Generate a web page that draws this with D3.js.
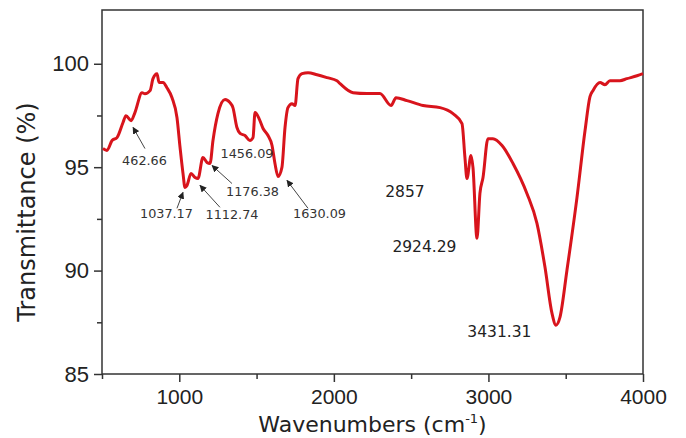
<!DOCTYPE html>
<html>
<head>
<meta charset="utf-8">
<script src="https://cdn.jsdelivr.net/npm/d3@7"></script>
<style>
  body { margin: 0; background: #fff; }
  svg { display: block; font-family: "DejaVu Sans", sans-serif; }
</style>
</head>
<body>
<svg id="chart"></svg>
<script>
// FTIR spectrum, values
const wavenumbers = [
  506, 532, 565, 597, 636, 655, 688, 713, 759, 778, 811, 830, 856, 869, 895,
  920, 953, 985, 1005, 1024, 1037, 1050, 1076, 1102, 1121, 1153, 1179, 1199,
  1218, 1250, 1296, 1328, 1347, 1373, 1393, 1425, 1457, 1477, 1490, 1516,
  1542, 1574, 1600, 1619, 1639, 1664, 1684, 1703, 1729, 1749, 1768, 1794,
  1833, 1891, 1956, 2020, 2040, 2124, 2214, 2298, 2370, 2402, 2473, 2577,
  2687, 2771, 2829, 2848, 2861, 2887, 2900, 2926, 2945, 2965, 2997, 3029,
  3088, 3159, 3249, 3314, 3366, 3411, 3437, 3463, 3508, 3573, 3625, 3657,
  3676, 3722, 3754, 3786, 3851, 3896, 3961, 4000,
];
const transmittance = [
  95.9, 95.81, 96.29, 96.43, 97.16, 97.49, 97.25, 97.64, 98.6, 98.55, 98.7,
  99.28, 99.52, 99.09, 99.09, 98.84, 98.36, 97.4, 95.95, 94.7, 94.02, 94.12,
  94.7, 94.5, 94.45, 95.47, 95.23, 95.18, 96.29, 97.59, 98.27, 98.12, 97.88,
  96.92, 96.63, 96.53, 96.29, 96.43, 97.64, 97.35, 96.87, 96.53, 96.05,
  95.18, 94.55, 94.99, 96.92, 97.88, 98.07, 97.98, 99.28, 99.52, 99.57,
  99.47, 99.33, 99.18, 99.04, 98.6, 98.56, 98.56, 97.98, 98.36, 98.22,
  97.98, 97.88, 97.59, 97.11, 95.47, 94.45, 95.56, 94.99, 91.56, 93.73,
  94.5, 96.38, 96.38, 96.05, 95.18, 93.73, 92.28, 90.16, 87.94, 87.36,
  87.75, 90.02, 93.54, 96.77, 98.41, 98.7, 99.09, 98.99, 99.18, 99.18,
  99.28, 99.42, 99.52,
];

const xTicks = [1000, 2000, 3000, 4000];
const xMinorTicks = [500, 1500, 2500, 3500];
const yTicks = [85, 90, 95, 100];
const yMinorTicks = [87.5, 92.5, 97.5];

// peak labels: text, wavenumber, transmittance of the label centre
const smallLabels = [
  ["462.66", 775, 95.35],
  ["1037.17", 917, 92.77],
  ["1112.74", 1341, 92.72],
  ["1176.38", 1474, 93.83],
  ["1456.09", 1438, 95.66],
  ["1630.09", 1907, 92.77],
];
const largeLabels = [
  ["2857", 2460, 93.84],
  ["2924.29", 2586, 91.17],
  ["3431.31", 3071, 87.04],
];
// arrows: tail wavenumber, tail T, tip wavenumber, tip T
const arrows = [
  [778, 95.9, 701, 96.92],
  [985, 93.01, 1024, 93.78],
  [1263, 93.06, 1134, 94.12],
  [1341, 94.21, 1212, 95.08],
  [1833, 93.01, 1697, 94.36],
];

const width = 686;
const height = 438;
const margin = { top: 10, right: 43, bottom: 64, left: 102 };

const svg = d3
  .select("#chart")
  .attr("width", width)
  .attr("height", height);

const x = d3
  .scaleLinear()
  .domain([500, 4000])
  .range([margin.left, width - margin.right]);

const y = d3
  .scaleLinear()
  .domain([85, 102.6])
  .range([height - margin.bottom, margin.top]);

const axisColor = "#333";

// x axis with minor ticks
svg
  .append("g")
  .attr("transform", `translate(0,${height - margin.bottom})`)
  .call(d3.axisBottom(x).tickValues(xMinorTicks).tickSize(5).tickFormat(() => ""))
  .call((g) => g.select(".domain").remove());

svg
  .append("g")
  .attr("transform", `translate(0,${height - margin.bottom})`)
  .call(
    d3.axisBottom(x).tickValues(xTicks).tickSize(8).tickPadding(7).tickFormat(d3.format("d")),
  )
  .call((g) => g.select(".domain").remove())
  .call((g) =>
    g.selectAll("text").attr("font-size", 21).attr("fill", "#222"),
  );

// y axis with minor ticks
svg
  .append("g")
  .attr("transform", `translate(${margin.left},0)`)
  .call(d3.axisLeft(y).tickValues(yMinorTicks).tickSize(5).tickFormat(() => ""))
  .call((g) => g.select(".domain").remove());

svg
  .append("g")
  .attr("transform", `translate(${margin.left},0)`)
  .call(d3.axisLeft(y).tickValues(yTicks).tickSize(8).tickPadding(5))
  .call((g) => g.select(".domain").remove())
  .call((g) =>
    g.selectAll("text").attr("font-size", 22).attr("fill", "#222"),
  );

svg.selectAll(".tick line").attr("stroke", axisColor).attr("stroke-width", 1.5);

// frame
svg
  .append("rect")
  .attr("x", margin.left)
  .attr("y", margin.top)
  .attr("width", width - margin.left - margin.right)
  .attr("height", height - margin.top - margin.bottom)
  .attr("fill", "none")
  .attr("stroke", axisColor)
  .attr("stroke-width", 1.5);

// spectrum
const spectrum = wavenumbers.map((w, i) => [w, transmittance[i]]);

const line = d3
  .line()
  .x((d) => x(d[0]))
  .y((d) => y(d[1]))
  .curve(d3.curveMonotoneX);

svg
  .append("path")
  .datum(spectrum)
  .attr("fill", "none")
  .attr("stroke", "#d8141c")
  .attr("stroke-width", 3)
  .attr("stroke-linejoin", "round")
  .attr("d", line);

// arrows
svg
  .append("defs")
  .append("marker")
  .attr("id", "head")
  .attr("viewBox", "0 0 10 10")
  .attr("refX", 9)
  .attr("refY", 5)
  .attr("markerWidth", 7)
  .attr("markerHeight", 7)
  .attr("markerUnits", "userSpaceOnUse")
  .attr("orient", "auto")
  .append("path")
  .attr("d", "M0,0L10,5L0,10Z")
  .attr("fill", "#222");

svg
  .append("g")
  .selectAll("line")
  .data(arrows)
  .join("line")
  .attr("x1", (d) => x(d[0]))
  .attr("y1", (d) => y(d[1]))
  .attr("x2", (d) => x(d[2]))
  .attr("y2", (d) => y(d[3]))
  .attr("stroke", "#444")
  .attr("stroke-width", 1)
  .attr("marker-end", "url(#head)");

// peak labels
svg
  .append("g")
  .selectAll("text")
  .data(smallLabels)
  .join("text")
  .attr("x", (d) => x(d[1]))
  .attr("y", (d) => y(d[2]))
  .attr("dy", "0.36em")
  .attr("text-anchor", "middle")
  .attr("font-size", 12.8)
  .attr("fill", "#333")
  .text((d) => d[0]);

svg
  .append("g")
  .selectAll("text")
  .data(largeLabels)
  .join("text")
  .attr("x", (d) => x(d[1]))
  .attr("y", (d) => y(d[2]))
  .attr("dy", "0.36em")
  .attr("text-anchor", "middle")
  .attr("font-size", 15.5)
  .attr("fill", "#222")
  .text((d) => d[0]);

// axis titles
const xTitle = svg
  .append("text")
  .attr("x", (margin.left + width - margin.right) / 2)
  .attr("y", 432)
  .attr("text-anchor", "middle")
  .attr("font-size", 22)
  .attr("fill", "#222");

xTitle.append("tspan").text("Wavenumbers (cm");
xTitle.append("tspan").attr("dy", -9).attr("font-size", 13).text("-1");
xTitle.append("tspan").attr("dy", 9).text(")");

svg
  .append("text")
  .attr("transform", `translate(35,${(margin.top + height - margin.bottom) / 2 + 20}) rotate(-90)`)
  .attr("text-anchor", "middle")
  .attr("font-size", 24)
  .attr("fill", "#222")
  .text("Transmittance (%)");
</script>
</body>
</html>
